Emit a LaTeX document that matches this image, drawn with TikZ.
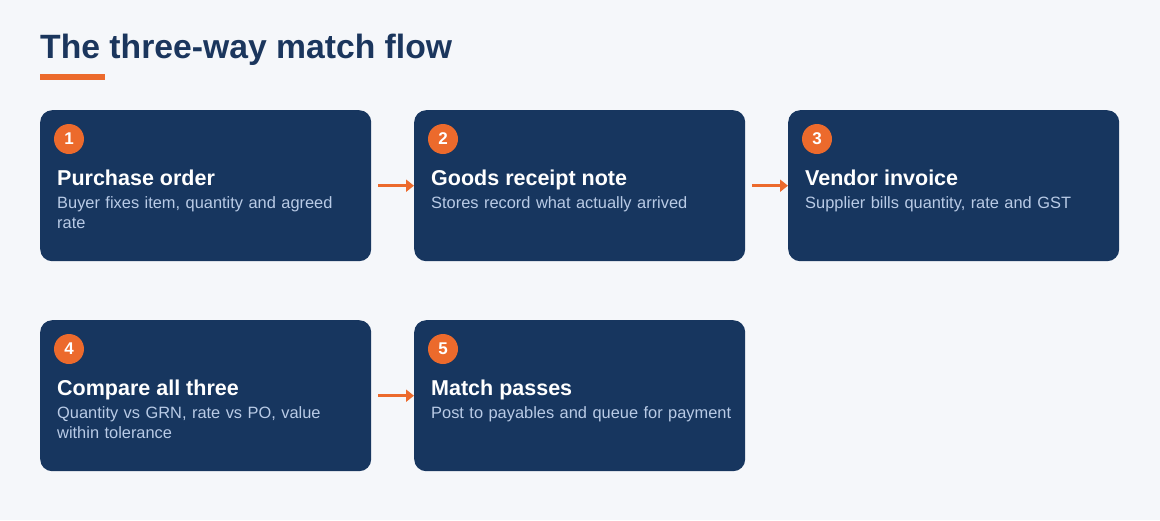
\documentclass[tikz,border=0pt]{standalone}
\usepackage{fontspec}
\setmainfont{Liberation Sans}
\usetikzlibrary{arrows.meta,positioning}
\definecolor{pagebg}{HTML}{F5F7FA}
\definecolor{cardblue}{HTML}{17365F}
\definecolor{titleblue}{HTML}{1B365D}
\definecolor{accent}{HTML}{EC6A2C}
\definecolor{desc}{HTML}{B9CBE6}
\tikzset{
 card/.style={fill=cardblue,rounded corners=12pt,minimum width=331pt,minimum height=151pt,inner sep=0pt,anchor=north west},
 badge/.style={circle,fill=accent,minimum size=30pt,inner sep=0pt,text=white,font=\fontsize{17}{17}\selectfont\bfseries},
 cardhead/.style={text=white,inner sep=0pt,anchor=base west,font=\fontsize{21.5}{24}\selectfont\bfseries},
 carddesc/.style={text=desc,inner sep=0pt,anchor=base west,text width=305pt,align=left,font=\fontsize{16.4}{20}\selectfont},
 flow/.style={draw=accent,line width=3pt,-{Triangle[length=8pt,width=12pt]},shorten <=7pt}
}
\begin{document}
\begin{tikzpicture}[x=1pt,y=-1pt]
\fill[pagebg](0,0)rectangle(1160,520);
\useasboundingbox(0,0)rectangle(1160,520);
% heading
\node[anchor=base west,inner sep=0pt,text=titleblue,font=\fontsize{33.7}{40}\selectfont\bfseries](title)at(40,58){The three-way match flow};
\fill[accent](40,74)rectangle(105,80);
% the five steps
\foreach \n/\x/\y/\head/\txt in {
 1/40/110/Purchase order/{Buyer fixes item, quantity and agreed rate},
 2/414/110/Goods receipt note/{Stores record what actually arrived},
 3/788/110/Vendor invoice/{Supplier bills quantity, rate and GST},
 4/40/320/Compare all three/{Quantity vs GRN, rate vs PO, value within tolerance},
 5/414/320/Match passes/{Post to payables and queue for payment}}{
\node[card](s\n)at(\x,\y){};
\node[badge](b\n)at(\x+29,\y+29){\n};
\node[cardhead](h\n)at(\x+17,\y+75){\head};
\node[carddesc](d\n)at(\x+17,\y+98){\txt};
}
\draw[flow](s1)--(s2);
\draw[flow](s2)--(s3);
\draw[flow](s4)--(s5);
\end{tikzpicture}
\end{document}
